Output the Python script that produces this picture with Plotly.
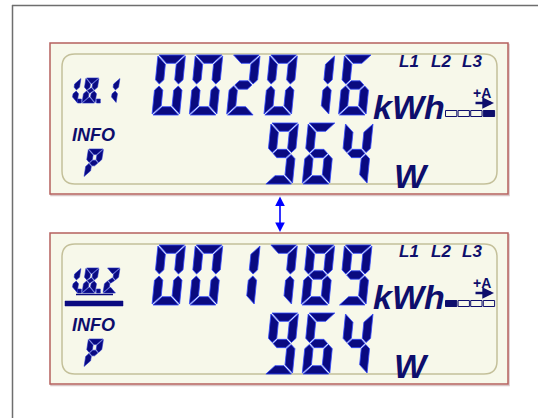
import plotly.graph_objects as go

# ---------------- data ----------------
panel_codes = ["1.8.1", "1.8.2"]          # OBIS register codes
energy_readings = ["002016", "001789"]    # kWh counters
power_readings = ["964", "964"]           # instantaneous power
energy_unit = "kWh"
power_unit = "W"
phase_labels = ["L1", "L2", "L3"]
direction_label = "+A"
info_label = "INFO"
quantity_symbol = "P"
active_marker = [3, 0]                    # which of the 4 tariff boxes is filled
underlined_code = [False, True]

# ---------------- style ----------------
NAVY = "#0A0A80"
EDGE = "#2E46FF"
EDGE_SMALL = "#1E2CC8"
TXT = "#0E0E6C"
CREAM = "#F7F8EA"
PANEL_BORDER = "#B5605E"
INNER_BORDER = "#C4C09A"

SEGS = {'0': 'abcdef', '1': 'bc', '2': 'abdeg', '3': 'abcdg', '4': 'bcfg',
        '5': 'acdfg', '6': 'acdefg', '7': 'abc', '8': 'abcdefg', '9': 'abcdfg',
        'P': 'abefg'}


def seg_shapes(W, H, t, g):
    a = [(g, 0), (W - g, 0), (W - t - g, t), (t + g, t)]
    b = [(W, g), (W, H / 2 - g - t / 2), (W - t / 2, H / 2 - g), (W - t, H / 2 - g - t / 2), (W - t, t + g)]
    mid = [(t / 2 + g, H / 2), (t + g, H / 2 - t / 2), (W - t - g, H / 2 - t / 2), (W - t / 2 - g, H / 2),
           (W - t - g, H / 2 + t / 2), (t + g, H / 2 + t / 2)]
    mx = lambda p: [(W - x, y) for x, y in p]
    my = lambda p: [(x, H - y) for x, y in p]
    return {'a': a, 'b': b, 'c': my(b), 'd': my(a), 'e': mx(my(b)), 'f': mx(b), 'g': mid}


def digits_xy(text, x0, y0, pitch, W, H, t, g, s):
    shapes = seg_shapes(W, H, t, g)
    xs, ys = [], []
    for i, ch in enumerate(text):
        ox = x0 + i * pitch
        for sg in SEGS.get(ch, ''):
            for (x, y) in shapes[sg] + [shapes[sg][0]]:
                xs.append(ox + x + s * (H - y))
                ys.append(y0 + y)
            xs.append(None); ys.append(None)
    return xs, ys


def seg_trace(xs, ys, lw=0.8, edge=EDGE):
    return go.Scatter(x=xs, y=ys, mode='lines', fill='toself', fillcolor=NAVY,
                      line=dict(color=edge, width=lw), hoverinfo='skip', showlegend=False)


fig = go.Figure()
shapes = []
ann = []

# outer frame
shapes.append(dict(type='line', x0=12.5, x1=12.5, y0=5, y1=418, xref='x', yref='y',
                   line=dict(color='#6E6E6E', width=1.5)))
shapes.append(dict(type='line', x0=12, x1=538, y0=5.5, y1=5.5, xref='x', yref='y',
                   line=dict(color='#6E6E6E', width=1.5)))

BIG = dict(pitch=37.3, W=27.5, H=60, t=8.3, g=1.0, s=0.1)
SMALL = dict(W=13, H=25, t=5.4, g=0.6, s=0.16)

for p, top in enumerate([43, 233]):
    # panel
    shapes.append(dict(type='rect', x0=51, x1=509, y0=top + 1.5, y1=top + 152.5, xref='x', yref='y', layer='below',
                       line=dict(color='#D9C8C8', width=1.5), fillcolor='rgba(0,0,0,0)'))
    shapes.append(dict(type='rect', x0=50, x1=508, y0=top, y1=top + 151, xref='x', yref='y', layer='below',
                       line=dict(color=PANEL_BORDER, width=1.5), fillcolor=CREAM))
    # inner rounded rectangle
    l, r, tt, bb, rad = 62, 497, top + 11, top + 141, 13
    path = (f"M {l+rad} {tt} L {r-rad} {tt} Q {r} {tt} {r} {tt+rad} L {r} {bb-rad} Q {r} {bb} {r-rad} {bb} "
            f"L {l+rad} {bb} Q {l} {bb} {l} {bb-rad} L {l} {tt+rad} Q {l} {tt} {l+rad} {tt} Z")
    shapes.append(dict(type='path', path=path, xref='x', yref='y', layer='below',
                       line=dict(color=INNER_BORDER, width=1.5)))

    # big energy digits
    xs, ys = digits_xy(energy_readings[p], 152, top + 12, BIG['pitch'], BIG['W'], BIG['H'], BIG['t'], BIG['g'], BIG['s'])
    fig.add_trace(seg_trace(xs, ys))
    # power digits (right aligned to the same slots)
    n = len(power_readings[p])
    x0 = 152 + (len(energy_readings[p]) - n) * BIG['pitch'] + 1
    xs, ys = digits_xy(power_readings[p], x0, top + 80, BIG['pitch'], BIG['W'], BIG['H'] + 1, BIG['t'], BIG['g'], BIG['s'])
    fig.add_trace(seg_trace(xs, ys))

    # OBIS code (small segments)
    code_digits = panel_codes[p].replace('.', '')
    ctop = top + 35
    cx = [64, 82, 103]
    xs, ys = [], []
    for i, ch in enumerate(code_digits):
        a, b = digits_xy(ch, cx[i], ctop, 0, SMALL['W'], SMALL['H'], SMALL['t'], SMALL['g'], SMALL['s'])
        xs += a; ys += b
    for dxp in [cx[0] + SMALL['W'] + 0.5, cx[1] + SMALL['W'] + 1.5]:
        xs += [dxp, dxp + 3.8, dxp + 3.8, dxp, dxp, None]
        ys += [ctop + 25, ctop + 25, ctop + 21, ctop + 21, ctop + 25, None]
    fig.add_trace(seg_trace(xs, ys, 0.6, EDGE_SMALL))
    if underlined_code[p]:
        shapes.append(dict(type='line', x0=76, x1=113, y0=ctop + 26.5, y1=ctop + 26.5, xref='x', yref='y',
                           line=dict(color=NAVY, width=1.5)))
        shapes.append(dict(type='rect', x0=65, x1=123, y0=ctop + 33, y1=ctop + 38, xref='x', yref='y',
                           line=dict(color=NAVY, width=0.5), fillcolor=NAVY))

    # P symbol
    xs, ys = digits_xy(quantity_symbol, 84, top + 106, 0, 15, 28, 5.6, 0.6, 0.16)
    fig.add_trace(seg_trace(xs, ys, 0.6, EDGE_SMALL))

    # INFO
    ann.append(dict(x=70, y=top + 92, text=f"<b><i>{info_label}</i></b>", showarrow=False,
                    xanchor='left', yanchor='middle', font=dict(family='Liberation Sans', size=18, color=TXT)))
    # units
    ann.append(dict(x=371, y=top + 64, text=f"<b><i>{energy_unit}</i></b>", showarrow=False,
                    xanchor='left', yanchor='middle', font=dict(family='Liberation Sans', size=34, color=TXT)))
    ann.append(dict(x=392, y=top + 133, text=f"<b><i>{power_unit}</i></b>", showarrow=False,
                    xanchor='left', yanchor='middle', font=dict(family='Liberation Sans', size=34, color=TXT)))
    # phases
    for i, lab in enumerate(phase_labels):
        ann.append(dict(x=409 + i * 31.5, y=top + 18, text=f"<b><i>{lab}</i></b>", showarrow=False,
                        xanchor='center', yanchor='middle', font=dict(family='Liberation Sans', size=17, color=TXT)))
    # +A and arrow
    ann.append(dict(x=482, y=top + 50, text=f"<b>{direction_label}</b>", showarrow=False,
                    xanchor='center', yanchor='middle', font=dict(family='Liberation Sans', size=14, color=TXT)))
    ann.append(dict(x=494, y=top + 60, ax=474, ay=top + 60, xref='x', yref='y', axref='x', ayref='y',
                    text='', showarrow=True, arrowhead=2, arrowsize=0.9, arrowwidth=2.6, arrowcolor=TXT))
    # tariff boxes
    for i in range(4):
        filled = (i == active_marker[p])
        shapes.append(dict(type='rect', x0=445.5 + i * 12.6, x1=445.5 + i * 12.6 + 11.3,
                           y0=top + 67.5, y1=top + 73.5, xref='x', yref='y',
                           line=dict(color=TXT, width=1), fillcolor=TXT if filled else 'rgba(0,0,0,0)'))

# double-headed arrow between panels
ann.append(dict(x=280, y=232, ax=280, ay=195, xref='x', yref='y', axref='x', ayref='y', text='',
                showarrow=True, arrowhead=2, startarrowhead=2, arrowside='end+start',
                arrowsize=1.2, startarrowsize=1.2, arrowwidth=1.6, arrowcolor='#0000FF'))

fig.update_layout(
    width=538, height=418, margin=dict(l=0, r=0, t=0, b=0),
    paper_bgcolor='white', plot_bgcolor='white',
    xaxis=dict(range=[0, 538], visible=False, fixedrange=True),
    yaxis=dict(range=[418, 0], visible=False, fixedrange=True),
    shapes=shapes, annotations=ann, showlegend=False,
)
# remove the default page margin so the figure sits at the window origin
fig.write_html("out.html", config={'displayModeBar': False},
               post_script="document.body.style.margin='0px';")
